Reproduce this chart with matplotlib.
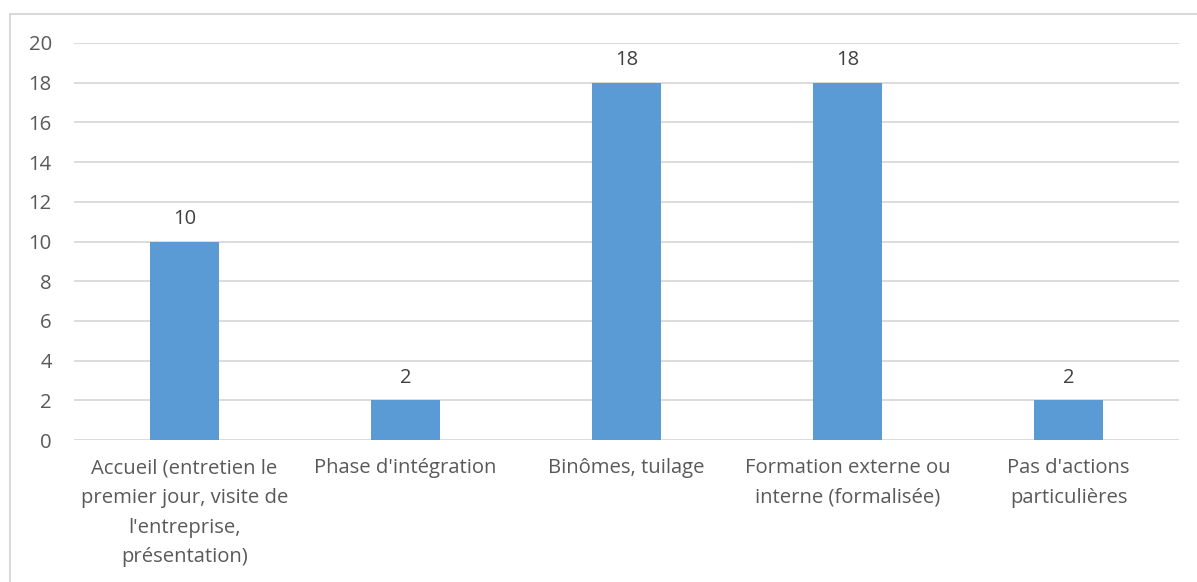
import matplotlib.pyplot as plt
from matplotlib.lines import Line2D

# categories and counts
categories = [
    "Accueil (entretien le\npremier jour, visite de\nl'entreprise,\nprésentation)",
    "Phase d'intégration",
    "Binômes, tuilage",
    "Formation externe ou\ninterne (formalisée)",
    "Pas d'actions\nparticulières",
]
counts = [10, 2, 18, 18, 2]
y_ticks = list(range(0, 21, 2))

bar_color = '#5B9BD5'
text_color = '#595959'
grid_color = '#D9D9D9'

plt.rcParams['font.family'] = ['Open Sans', 'DejaVu Sans']

fig = plt.figure(figsize=(11.97, 5.82), dpi=100)
ax = fig.add_axes([74/1197, 1 - 440/582, (1179 - 74)/1197, (440 - 43)/582])

x = range(len(categories))
ax.bar(x, counts, width=0.31, color=bar_color, zorder=3)

for xi, v in zip(x, counts):
    ax.annotate(str(v), (xi, v), xytext=(0, 9), textcoords='offset points',
                ha='center', va='bottom', fontsize=14.5, color='#404040')

ax.set_xlim(-0.5, len(categories) - 0.5)
ax.set_ylim(0, 20)
ax.set_yticks(y_ticks)
ax.set_xticks(list(x))
ax.set_xticklabels(categories, fontsize=14.6, color=text_color, linespacing=1.65)
ax.tick_params(axis='y', labelsize=14.6, labelcolor=text_color, length=0, pad=16)
ax.tick_params(axis='x', length=0, pad=13)

ax.grid(axis='y', color=grid_color, linewidth=1.3, zorder=0)
for s in ax.spines.values():
    s.set_visible(False)

# outer frame (left and top edges)
fig.add_artist(Line2D([10/1197, 10/1197], [0, 1 - 14/582], color=grid_color, lw=1.5))
fig.add_artist(Line2D([10/1197, 1], [1 - 14/582, 1 - 14/582], color=grid_color, lw=1.5))

fig.savefig('out.png', dpi=100)
